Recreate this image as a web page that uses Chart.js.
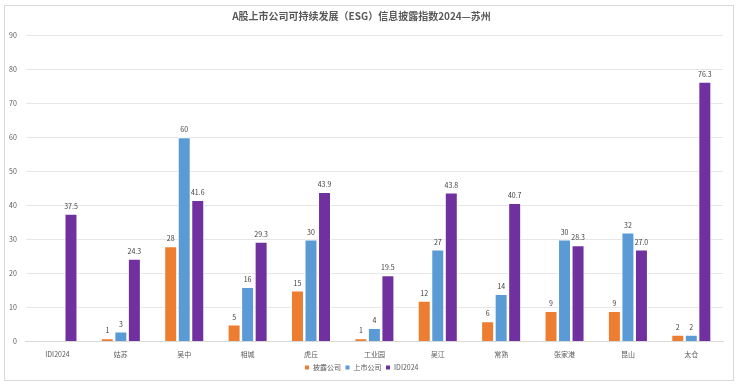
<!DOCTYPE html>
<html lang='zh-CN'>
<head>
    <meta charset='UTF-8'>
    <title>A股上市公司可持续发展（ESG）信息披露指数2024—苏州</title>
    <style>
        body {
            margin: 0;
            padding: 0;
            background-color: #fff;
        }
        .frame {
            position: absolute;
            left: 4px;
            top: 5px;
            width: 728px;
            height: 374px;
            border: 1px solid #d9d9d9;
        }
        #chart {
            position: absolute;
            left: 0;
            top: 0;
        }
    </style>
</head>
<body>
    <div class='frame'></div>
    <canvas id='chart' width='737' height='384'></canvas>

    <script src='https://cdn.jsdelivr.net/npm/chart.js'></script>
    <script>
        const categories = ['IDI2024', '姑苏', '吴中', '相城', '虎丘', '工业园', '吴江', '常熟', '张家港', '昆山', '太仓'];
        const disclosed = [null, 1, 28, 5, 15, 1, 12, 6, 9, 9, 2];
        const listed = [null, 3, 60, 16, 30, 4, 27, 14, 30, 32, 2];
        const idi = [37.5, 24.3, 41.6, 29.3, 43.9, 19.5, 43.8, 40.7, 28.3, 27.0, 76.3];
        const yTicks = [0, 10, 20, 30, 40, 50, 60, 70, 80, 90];

        const cjk = "'Noto Sans CJK SC', 'Noto Sans', sans-serif";

        // value labels above each bar
        const barLabels = {
            id: 'barLabels',
            afterDatasetsDraw(chart) {
                const ctx = chart.ctx;
                ctx.save();
                ctx.font = '7px ' + cjk;
                ctx.fillStyle = '#404040';
                ctx.textAlign = 'center';
                ctx.textBaseline = 'bottom';
                chart.data.datasets.forEach((ds, i) => {
                    chart.getDatasetMeta(i).data.forEach((bar, j) => {
                        const v = ds.data[j];
                        if (v == null) return;
                        const txt = ds.decimals ? v.toFixed(1) : String(v);
                        ctx.fillText(txt, bar.x, bar.y - 4);
                    });
                });
                ctx.restore();
            }
        };

        new Chart(document.getElementById('chart').getContext('2d'), {
            type: 'bar',
            data: {
                labels: categories,
                datasets: [
                    { label: '披露公司', data: disclosed, backgroundColor: '#ED7D31' },
                    { label: '上市公司', data: listed, backgroundColor: '#5B9BD5' },
                    { label: 'IDI2024', data: idi, backgroundColor: '#7030A0', decimals: true }
                ].map(d => Object.assign(d, {
                    borderColor: '#ffffff',
                    borderWidth: 1,
                    categoryPercentage: 0.64,
                    barPercentage: 0.96
                }))
            },
            plugins: [barLabels],
            options: {
                responsive: false,
                animation: false,
                layout: { padding: { left: 0, right: 14, top: 6, bottom: 3 } },
                plugins: {
                    title: {
                        display: true,
                        text: 'A股上市公司可持续发展（ESG）信息披露指数2024—苏州',
                        color: '#595959',
                        font: { family: cjk, size: 10 },
                        padding: { top: 4, bottom: 13 }
                    },
                    legend: {
                        position: 'bottom',
                        labels: {
                            color: '#595959',
                            font: { family: cjk, size: 7 },
                            boxWidth: 5,
                            boxHeight: 5,
                            padding: 4
                        }
                    },
                    tooltip: { enabled: false }
                },
                scales: {
                    x: {
                        grid: { display: false },
                        border: { color: '#d9d9d9' },
                        ticks: { color: '#595959', font: { family: cjk, size: 7 }, maxRotation: 0, padding: 1 }
                    },
                    y: {
                        min: yTicks[0],
                        max: yTicks[yTicks.length - 1],
                        afterBuildTicks: axis => { axis.ticks = yTicks.map(v => ({ value: v })); },
                        grid: { color: '#e6e6e6', drawTicks: false },
                        border: { display: false },
                        ticks: { color: '#595959', font: { family: cjk, size: 7 }, padding: 9 }
                    }
                }
            }
        });
    </script>
</body>
</html>
